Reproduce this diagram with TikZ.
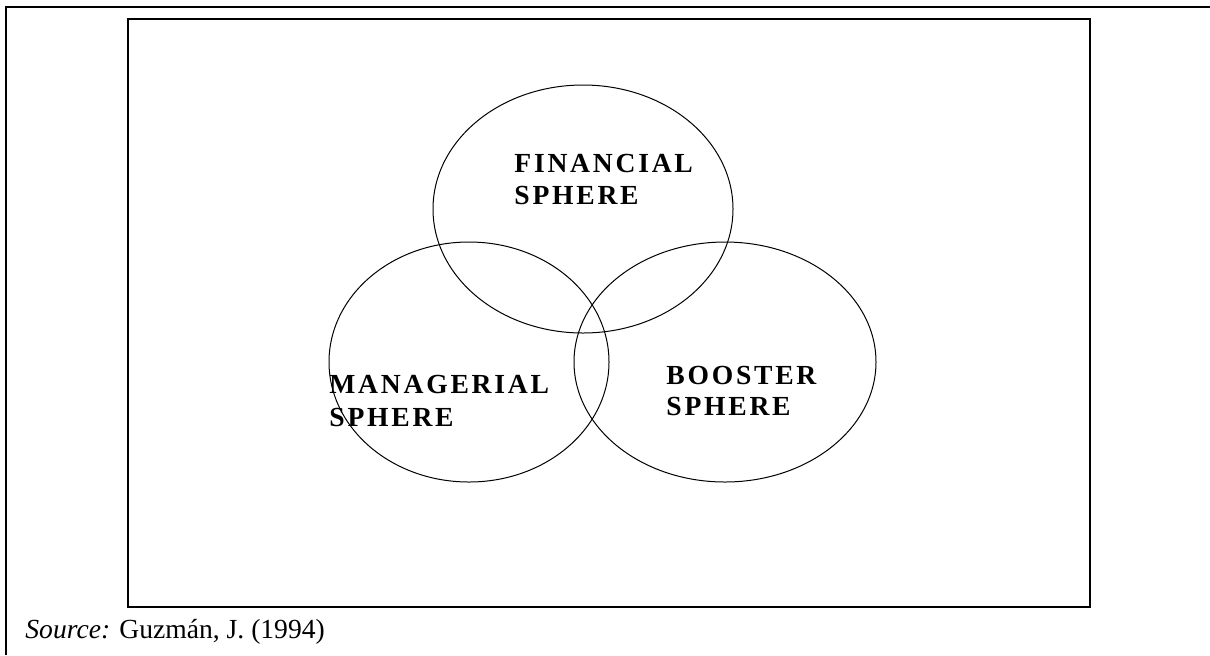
\documentclass[tikz,border=0pt]{standalone}
\usepackage{fontspec}
\setmainfont{Liberation Serif}
\newfontfamily\labelfont[LetterSpace=10]{Liberation Serif}
\begin{document}
\begin{tikzpicture}[x=0.5pt,y=-0.5pt,
  sphere/.style={draw=black,line width=0.5pt},
  lbl/.style={inner sep=0pt,anchor=base west,font=\labelfont\bfseries\fontsize{13.8}{16}\selectfont},
  src/.style={inner sep=0pt,anchor=base west,font=\fontsize{13.8}{16}\selectfont}]
\useasboundingbox (0,0) rectangle (1210,655);
% outer frame (top and left sides only)
\draw[line width=1pt] (6,655) -- (6,7) -- (1210,7);
% inner frame
\draw[line width=0.75pt] (128,19) rectangle (1090,607);
% spheres
\draw[sphere] (583,209) ellipse [x radius=150, y radius=124];
\draw[sphere] (469,362) ellipse [x radius=140, y radius=120];
\draw[sphere] (725,362) ellipse [x radius=151, y radius=120];
% labels
\node[lbl] (fin1) at (514,172) {FINANCIAL};
\node[lbl] (fin2) at (514,204) {SPHERE};
\node[lbl] (man1) at (329,393) {MANAGERIAL};
\node[lbl] (man2) at (329,426) {SPHERE};
\node[lbl] (boo1) at (666,384) {BOOSTER};
\node[lbl] (boo2) at (666,415) {SPHERE};
\node[src] (source) at (25,638) {\textit{Source:} Guzmán, J. (1994)};
\end{tikzpicture}
\end{document}
